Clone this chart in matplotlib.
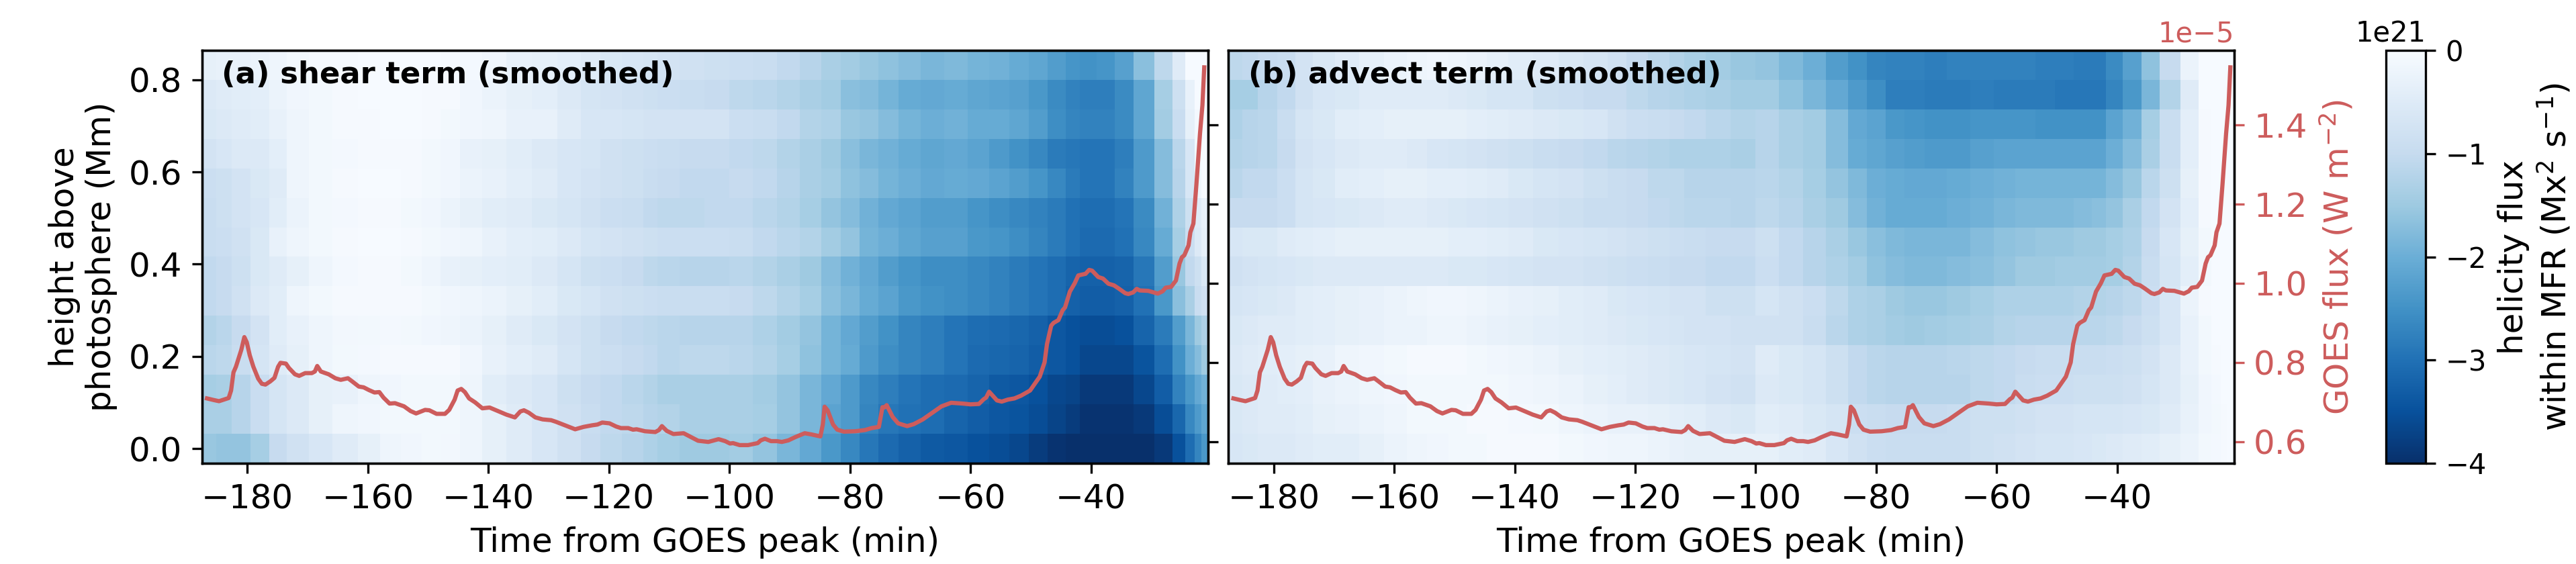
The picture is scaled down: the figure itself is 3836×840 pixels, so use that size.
import numpy as np
import matplotlib
matplotlib.use('Agg')
import matplotlib.pyplot as plt

# time bin edges (min from GOES peak)
time_edges = [-187.56,-185.18,-182.62,-179.43,-176.37,-173.47,-169.78,-165.86,-161.65,-157.96,
              -154.55,-151.03,-147.96,-144.67,-141.08,-137.0,-132.73,-128.6,-124.6,-121.4,
              -117.85,-114.3,-111.9,-108.3,-104.15,-100.0,-96.16,-92.16,-88.3,-84.7,
              -81.5,-78.45,-75.3,-71.9,-68.25,-64.4,-60.5,-56.9,-53.6,-50.3,
              -47.2,-44.2,-41.8,-39.1,-36.0,-32.9,-29.5,-26.5,-24.4,-22.8,-21.7,-20.56]
# height bin edges (Mm)
height_edges = [-0.032,0.032,0.096,0.16,0.224,0.288,0.352,0.416,0.48,0.544,0.608,0.672,0.736,0.80,0.864]

# helicity flux, 1e21 Mx2/s, bottom row first
shear_term = [
 [-1.55,-1.6,-1.6,-1.4,-1.0,-.8,-.65,-.5,-.35,-.2,-.15,-.1,-.12,-.2,-.35,-.5,-.65,-.8,-1.0,-1.1,-1.2,-1.3,-1.4,-1.5,-1.5,
  -1.45,-1.6,-1.85,-2.1,-2.4,-2.65,-2.9,-3.1,-3.25,-3.35,
  -3.4,-3.5,-3.55,-3.65,-3.8,-3.95,-4.0,-4.0,-4.0,-4.0,-4.0,-3.85,-3.5,-3.05,-2.7,-2.4],
 [-1.35,-1.35,-1.2,-.95,-.7,-.55,-.35,-.2,-.15,-.1,-.1,-.1,-.1,-.2,-.35,-.5,-.65,-.8,-.95,-1.05,-1.1,-1.2,-1.25,-1.35,-1.35,
  -1.35,-1.4,-1.6,-1.85,-2.2,-2.35,-2.7,-2.9,-3.0,-3.05,
  -3.2,-3.3,-3.4,-3.45,-3.55,-3.7,-3.8,-3.95,-3.95,-3.95,-3.85,-3.55,-3.15,-2.65,-2.35,-2.15],
 [-1.4,-1.35,-1.2,-.95,-.7,-.55,-.35,-.3,-.2,-.15,-.1,-.1,-.1,-.2,-.45,-.55,-.65,-.85,-1.0,-1.05,-1.15,-1.25,-1.35,-1.35,-1.35,
  -1.35,-1.45,-1.6,-1.85,-2.1,-2.35,-2.65,-2.8,-2.95,-3.05,
  -3.1,-3.2,-3.35,-3.4,-3.5,-3.65,-3.7,-3.85,-3.85,-3.85,-3.65,-3.3,-2.75,-2.4,-2.1,-1.95],
 [-1.15,-1.1,-.95,-.7,-.5,-.35,-.2,-.1,-.08,-.05,-.05,-.05,-.05,-.15,-.3,-.4,-.5,-.7,-.85,-.9,-1.0,-1.05,-1.15,-1.1,-1.1,
  -1.15,-1.25,-1.4,-1.65,-1.9,-2.05,-2.35,-2.55,-2.7,-2.8,
  -2.95,-3.1,-3.15,-3.2,-3.3,-3.4,-3.5,-3.65,-3.65,-3.65,-3.45,-3.05,-2.5,-2.0,-1.75,-1.5],
 [-1.25,-1.15,-1.0,-.75,-.45,-.3,-.2,-.12,-.1,-.08,-.1,-.15,-.2,-.25,-.35,-.5,-.6,-.75,-.85,-1.0,-1.05,-1.1,-1.15,-1.2,-1.2,
  -1.2,-1.3,-1.45,-1.6,-1.9,-2.1,-2.3,-2.5,-2.7,-2.8,
  -2.95,-3.05,-3.1,-3.15,-3.25,-3.4,-3.5,-3.55,-3.55,-3.5,-3.2,-2.85,-2.3,-1.85,-1.5,-1.3],
 [-1.05,-1.0,-.8,-.55,-.45,-.2,-.1,-.05,-.05,-.05,-.05,-.1,-.15,-.2,-.25,-.35,-.45,-.6,-.7,-.8,-.85,-.9,-.95,-.95,-.95,
  -1.0,-1.1,-1.25,-1.4,-1.7,-1.85,-2.05,-2.2,-2.4,-2.5,
  -2.55,-2.65,-2.75,-2.85,-2.95,-3.05,-3.25,-3.3,-3.3,-3.25,-3.0,-2.4,-1.7,-1.35,-.95,-.8],
 [-1.05,-1.0,-.85,-.6,-.5,-.35,-.2,-.08,-.05,-.05,-.1,-.2,-.3,-.35,-.4,-.45,-.55,-.7,-.85,-.9,-1.0,-1.1,-1.15,-1.2,-1.2,
  -1.15,-1.25,-1.35,-1.5,-1.75,-1.95,-2.1,-2.3,-2.45,-2.55,
  -2.55,-2.65,-2.75,-2.85,-2.95,-3.05,-3.2,-3.25,-3.25,-3.2,-2.9,-2.3,-1.55,-1.05,-.85,-.6],
 [-.95,-.9,-.8,-.6,-.3,-.2,-.1,-.05,-.03,-.03,-.05,-.1,-.15,-.2,-.3,-.4,-.45,-.55,-.7,-.75,-.8,-.85,-.9,-.9,-.9,
  -.95,-1.05,-1.15,-1.25,-1.45,-1.6,-1.9,-2.0,-2.15,-2.25,
  -2.25,-2.4,-2.45,-2.55,-2.7,-2.85,-3.0,-3.1,-3.1,-3.0,-2.65,-2.05,-1.4,-.9,-.55,-.35],
 [-.95,-.85,-.75,-.65,-.45,-.25,-.1,-.08,-.05,-.05,-.1,-.15,-.25,-.35,-.45,-.5,-.6,-.7,-.8,-.9,-.95,-1.05,-1.1,-1.1,-1.05,
  -1.05,-1.15,-1.25,-1.4,-1.6,-1.75,-1.95,-2.1,-2.2,-2.3,
  -2.3,-2.45,-2.55,-2.65,-2.75,-2.85,-3.0,-3.05,-3.05,-2.95,-2.6,-1.95,-1.3,-.85,-.5,-.3],
 [-.9,-.85,-.75,-.6,-.5,-.2,-.1,-.05,-.03,-.03,-.05,-.1,-.15,-.25,-.3,-.4,-.5,-.65,-.75,-.8,-.85,-.95,-1.0,-1.05,-1.05,
  -1.0,-1.05,-1.2,-1.35,-1.45,-1.65,-1.75,-1.9,-2.0,-2.1,
  -2.05,-2.1,-2.2,-2.3,-2.45,-2.65,-2.85,-2.95,-2.95,-2.75,-2.35,-1.75,-1.2,-.65,-.2,-.03],
 [-.75,-.65,-.55,-.55,-.4,-.2,-.1,-.08,-.05,-.05,-.05,-.1,-.15,-.3,-.35,-.45,-.55,-.65,-.7,-.8,-.85,-.9,-.95,-1.0,-1.0,
  -1.05,-1.1,-1.25,-1.35,-1.5,-1.7,-1.85,-1.95,-2.05,-2.15,
  -2.1,-2.2,-2.35,-2.5,-2.65,-2.85,-2.9,-2.95,-2.95,-2.8,-2.35,-1.75,-1.15,-.65,-.1,-.03],
 [-.6,-.55,-.5,-.45,-.3,-.2,-.1,-.05,-.05,-.03,-.03,-.05,-.1,-.15,-.2,-.3,-.3,-.5,-.65,-.65,-.7,-.75,-.75,-.75,-.75,
  -.9,-.95,-1.05,-1.25,-1.3,-1.55,-1.6,-1.75,-1.9,-2.0,
  -1.95,-2.05,-2.05,-2.15,-2.3,-2.55,-2.7,-2.75,-2.75,-2.6,-2.15,-1.45,-.95,-.35,-.08,-.05],
 [-.55,-.5,-.45,-.4,-.25,-.15,-.1,-.05,-.03,-.03,-.03,-.05,-.05,-.15,-.25,-.35,-.4,-.55,-.7,-.75,-.8,-.85,-.9,-.95,-1.0,
  -1.1,-1.15,-1.25,-1.35,-1.45,-1.7,-1.75,-1.9,-2.05,-2.1,
  -2.05,-2.15,-2.2,-2.25,-2.4,-2.6,-2.75,-2.8,-2.8,-2.6,-2.15,-1.4,-.85,-.3,-.02,-.02],
 [-.35,-.3,-.3,-.25,-.2,-.1,-.05,-.05,-.03,-.03,-.03,-.03,-.05,-.08,-.15,-.3,-.35,-.4,-.5,-.6,-.65,-.7,-.75,-.8,-.85,
  -.9,-.95,-1.05,-1.2,-1.35,-1.45,-1.55,-1.65,-1.75,-1.85,
  -1.8,-1.9,-1.95,-2.05,-2.15,-2.3,-2.45,-2.5,-2.45,-2.25,-1.7,-1.1,-.5,-.03,-.02,-.02],
]
advect_term = [
 [-.65,-.6,-.55,-.55,-.5,-.45,-.45,-.35,-.25,-.2,-.15,-.1,-.1,-.05,-.05,-.05,-.1,-.15,-.2,-.2,-.25,-.3,-.35,-.35,-.35,
  -.35,-.45,-.5,-.65,-.8,-.9,-.95,-.95,-.95,-.95,
  -.85,-.8,-.75,-.7,-.7,-.65,-.6,-.55,-.5,-.45,-.35,-.25,-.1,-.08,-.05,-.03],
 [-.6,-.55,-.5,-.5,-.45,-.35,-.3,-.25,-.2,-.1,-.1,-.1,-.05,-.05,-.08,-.1,-.2,-.25,-.3,-.3,-.35,-.4,-.45,-.55,-.6,
  -.45,-.5,-.6,-.7,-.9,-.95,-1.0,-1.0,-1.0,-.95,
  -.85,-.85,-.8,-.75,-.75,-.7,-.7,-.7,-.65,-.6,-.5,-.3,-.15,-.1,-.05,-.03],
 [-.6,-.55,-.5,-.45,-.4,-.3,-.25,-.2,-.15,-.1,-.1,-.1,-.1,-.1,-.15,-.2,-.25,-.35,-.4,-.5,-.55,-.6,-.65,-.75,-.8,
  -.55,-.6,-.7,-.85,-1.05,-1.15,-1.2,-1.2,-1.2,-1.2,
  -1.1,-1.05,-.95,-.9,-.9,-.85,-.85,-.85,-.8,-.7,-.55,-.35,-.15,-.08,-.03,-.03],
 [-.55,-.5,-.45,-.4,-.35,-.3,-.2,-.15,-.1,-.05,-.05,-.05,-.1,-.15,-.2,-.25,-.35,-.4,-.45,-.5,-.55,-.6,-.65,-.7,-.75,
  -.5,-.6,-.7,-.85,-1.05,-1.15,-1.2,-1.2,-1.2,-1.15,
  -1.1,-1.05,-1.0,-.95,-.95,-.95,-.95,-.9,-.85,-.75,-.55,-.3,-.1,-.05,-.03,-.03],
 [-.6,-.55,-.5,-.5,-.45,-.4,-.35,-.3,-.25,-.25,-.2,-.2,-.25,-.3,-.35,-.4,-.45,-.5,-.55,-.6,-.65,-.7,-.75,-.75,-.8,
  -.8,-.8,-.95,-1.15,-1.3,-1.35,-1.45,-1.5,-1.45,-1.4,
  -1.35,-1.25,-1.2,-1.2,-1.2,-1.15,-1.15,-1.1,-1.0,-.85,-.65,-.3,-.1,-.03,-.03,-.03],
 [-.7,-.65,-.6,-.55,-.45,-.4,-.35,-.3,-.25,-.2,-.15,-.15,-.2,-.25,-.3,-.35,-.45,-.5,-.6,-.65,-.7,-.75,-.75,-.85,-.85,
  -.7,-.8,-.9,-1.1,-1.3,-1.35,-1.5,-1.55,-1.55,-1.5,
  -1.4,-1.3,-1.3,-1.3,-1.3,-1.25,-1.25,-1.2,-1.1,-.9,-.65,-.25,-.05,-.03,-.03,-.03],
 [-.8,-.75,-.7,-.65,-.6,-.55,-.55,-.55,-.55,-.55,-.55,-.6,-.6,-.65,-.7,-.75,-.75,-.8,-.85,-.9,-.95,-1.0,-1.0,-1.05,-1.05,
  -.9,-1.05,-1.2,-1.3,-1.45,-1.65,-1.75,-1.8,-1.8,-1.75,
  -1.7,-1.6,-1.5,-1.5,-1.45,-1.45,-1.45,-1.4,-1.25,-.95,-.7,-.4,-.1,-.03,-.03,-.03],
 [-.65,-.6,-.6,-.5,-.45,-.4,-.35,-.35,-.35,-.35,-.35,-.4,-.4,-.45,-.5,-.6,-.65,-.7,-.75,-.8,-.85,-.9,-.95,-1.0,-1.0,
  -.85,-1.05,-1.2,-1.35,-1.55,-1.7,-1.8,-1.85,-1.85,-1.85,
  -1.75,-1.65,-1.6,-1.55,-1.55,-1.5,-1.5,-1.4,-1.3,-1.0,-.65,-.35,-.1,-.03,-.03,-.03],
 [-1.0,-1.0,-1.0,-.9,-.7,-.65,-.6,-.55,-.5,-.5,-.55,-.6,-.65,-.7,-.75,-.8,-.85,-.95,-.95,-1.0,-1.05,-1.1,-1.15,-1.15,-1.2,
  -1.1,-1.2,-1.35,-1.5,-1.75,-1.95,-2.05,-2.05,-2.05,-2.0,
  -1.95,-1.85,-1.8,-1.8,-1.8,-1.75,-1.7,-1.6,-1.35,-1.05,-.75,-.4,-.05,-.03,-.03,-.03],
 [-1.15,-1.05,-1.05,-.9,-.7,-.6,-.45,-.4,-.35,-.35,-.4,-.4,-.45,-.5,-.6,-.7,-.75,-.85,-.95,-1.0,-1.1,-1.1,-1.2,-1.2,-1.2,
  -1.15,-1.25,-1.4,-1.6,-1.8,-2.0,-2.05,-2.1,-2.1,-2.05,
  -2.0,-1.95,-1.9,-1.9,-1.9,-1.9,-1.9,-1.75,-1.55,-1.15,-.85,-.35,-.05,-.03,-.03,-.03],
 [-1.25,-1.2,-1.15,-1.0,-.75,-.65,-.55,-.5,-.5,-.55,-.65,-.7,-.75,-.8,-.85,-.95,-1.0,-1.05,-1.15,-1.2,-1.25,-1.3,-1.3,-1.3,-1.35,
  -1.2,-1.35,-1.45,-1.75,-2.05,-2.15,-2.25,-2.3,-2.35,-2.35,
  -2.25,-2.2,-2.2,-2.2,-2.2,-2.2,-2.2,-2.0,-1.75,-1.35,-.95,-.4,-.05,-.03,-.03,-.03],
 [-1.3,-1.2,-1.15,-.95,-.7,-.6,-.45,-.4,-.35,-.35,-.35,-.35,-.4,-.45,-.5,-.55,-.6,-.65,-.8,-.9,-.95,-1.0,-1.05,-1.15,-1.25,
  -1.2,-1.35,-1.45,-1.75,-2.1,-2.2,-2.4,-2.45,-2.5,-2.5,
  -2.45,-2.45,-2.45,-2.5,-2.5,-2.5,-2.5,-2.2,-1.95,-1.4,-.95,-.4,-.05,-.03,-.03,-.03],
 [-1.4,-1.4,-1.2,-1.05,-.8,-.65,-.6,-.5,-.5,-.5,-.5,-.55,-.6,-.7,-.7,-.85,-.9,-1.0,-1.0,-1.1,-1.2,-1.25,-1.3,-1.35,-1.45,
  -1.45,-1.65,-1.85,-2.1,-2.35,-2.55,-2.8,-2.8,-2.85,-2.85,
  -2.8,-2.85,-2.85,-2.85,-2.9,-2.9,-2.9,-2.7,-2.4,-1.85,-1.25,-.5,-.03,-.03,-.03,-.03],
 [-1.1,-1.05,-1.0,-.95,-.75,-.6,-.5,-.35,-.25,-.2,-.15,-.2,-.25,-.35,-.45,-.5,-.6,-.7,-.8,-1.0,-1.1,-1.25,-1.35,-1.45,-1.55,
  -1.6,-1.8,-2.0,-2.3,-2.5,-2.7,-2.75,-2.75,-2.8,-2.75,
  -2.75,-2.75,-2.75,-2.8,-2.8,-2.85,-2.85,-2.6,-2.25,-1.65,-1.0,-.25,-.03,-.03,-.03,-.03],
]

# GOES soft x-ray curve
goes_time = [-186.7,-185.6,-184.7,-183.9,-183.1,-182.7,-182.3,-181.9,-181.0,-180.5,-180.1,-179.6,-179.0,-178.2,-177.6,-177.0,
 -176.2,-175.5,-174.9,-174.5,-173.6,-173.1,-172.1,-171.4,-170.4,-169.3,-168.8,-168.4,-167.8,-166.5,-165.4,-164.5,-163.3,-162.6,
 -161.5,-160.7,-159.8,-158.9,-158.1,-157.4,-156.4,-155.5,-154.0,-152.9,-152.0,-150.5,-149.8,-148.6,-147.2,-146.5,-145.6,-145.1,
 -144.5,-143.9,-143.2,-142.2,-141.0,-139.8,-138.7,-137.0,-135.6,-134.7,-134.1,-133.3,-132.2,-131.0,-129.6,-128.8,-127.3,-125.6,
 -124.2,-122.8,-121.9,-121.1,-119.9,-118.8,-118.0,-116.8,-116.0,-115.4,-114.0,-112.3,-111.7,-111.2,-110.4,-109.3,-107.6,-106.6,
 -105.2,-103.5,-101.8,-100.7,-99.9,-99.4,-98.3,-96.9,-95.3,-94.8,-94.1,-93.1,-92.1,-91.3,-90.2,-89.1,-87.5,-86.4,-84.9,-84.5,
 -84.2,-83.7,-82.8,-82.1,-81.0,-79.1,-77.5,-76.4,-75.2,-74.6,-74.3,-73.9,-72.9,-72.0,-70.5,-69.4,-67.9,-66.2,-64.8,-63.2,-61.3,
 -60.0,-58.6,-57.8,-57.4,-56.9,-55.6,-54.8,-53.8,-52.7,-51.6,-50.1,-48.5,-47.7,-47.3,-46.6,-46.2,-45.4,-44.7,-44.3,-43.5,-42.7,
 -42.1,-40.9,-40.3,-39.8,-38.8,-38.0,-37.1,-36.2,-35.4,-34.3,-33.8,-33.0,-32.4,-31.9,-30.5,-28.9,-28.1,-27.6,-26.7,-25.9,-25.3,
 -24.9,-24.5,-23.8,-23.5,-23.0,-22.5,-21.9,-21.5,-21.2]
goes_flux = [.709,.705,.702,.706,.710,.729,.775,.789,.832,.864,.851,.818,.789,.759,.746,.744,
 .752,.761,.789,.799,.797,.786,.770,.766,.773,.773,.777,.791,.777,.770,.760,.756,.760,.752,
 .739,.737,.730,.724,.725,.711,.696,.697,.689,.677,.671,.680,.679,.670,.670,.680,.706,.729,
 .733,.725,.709,.699,.684,.686,.679,.668,.661,.676,.679,.673,.661,.656,.654,.650,.641,.631,
 .637,.641,.643,.648,.646,.638,.634,.634,.630,.631,.626,.624,.629,.639,.627,.619,.621,.613,
 .602,.599,.606,.601,.595,.596,.591,.591,.596,.603,.607,.601,.601,.599,.603,.611,.621,.618,.613,.643,
 .688,.679,.643,.630,.625,.626,.629,.634,.637,.687,.686,.692,.662,.646,.639,.644,.656,.674,.689,.698,.696,
 .694,.695,.707,.711,.726,.704,.701,.706,.709,.716,.729,.764,.800,.846,.893,.900,.907,.932,.939,.979,1.000,
 1.020,1.024,1.034,1.032,1.016,1.012,.999,.995,.987,.975,.973,.977,.986,.982,.981,.974,.980,.989,.991,1.007,1.050,
 1.066,1.071,1.096,1.129,1.151,1.250,1.379,1.450,1.546]

W, H = 3836, 840
red = 'indianred'
xticks = [-180,-160,-140,-120,-100,-80,-60,-40]
goes_ticks = [0.6e-5,0.8e-5,1.0e-5,1.2e-5,1.4e-5]

def px_axes(fig, left, right, top, bottom):
    return fig.add_axes([left/W, 1-bottom/H, (right-left)/W, (bottom-top)/H])

def draw_panel(ax, data, title):
    mesh = ax.pcolormesh(time_edges, height_edges, np.array(data)*1e21, cmap='Blues_r', vmin=-4e21, vmax=0)
    ax.set_xlim(-187.56, -20.56)
    ax.set_ylim(-0.032, 0.864)
    ax.set_xticks(xticks)
    ax.tick_params(labelsize=12)
    ax.set_xlabel('Time from GOES peak (min)', fontsize=12)
    ax.text(0.02, 0.94, title, transform=ax.transAxes, fontsize=10.8, fontweight='bold', va='center')
    twin = ax.twinx()
    twin.plot(goes_time, np.array(goes_flux)*1e-5, color=red, lw=1.5)
    twin.set_ylim(0.545e-5, 1.589e-5)
    twin.set_yticks(goes_ticks)
    return mesh, twin

fig = plt.figure(figsize=(W/300, H/300), dpi=300)
ax_a = px_axes(fig, 300.5, 1799, 75, 690)
ax_b = px_axes(fig, 1829, 3327, 75, 690)
cax = px_axes(fig, 3552.5, 3612, 75, 690)

mesh, twin_a = draw_panel(ax_a, shear_term, '(a) shear term (smoothed)')
ax_a.set_yticks([0,0.2,0.4,0.6,0.8])
ax_a.set_ylabel('height above\nphotosphere (Mm)', fontsize=12)
twin_a.tick_params(labelright=False)
twin_a.yaxis.get_offset_text().set_visible(False)

mesh, twin_b = draw_panel(ax_b, advect_term, '(b) advect term (smoothed)')
ax_b.set_yticks([])
twin_b.tick_params(axis='y', colors=red, labelsize=12)
twin_b.yaxis.get_offset_text().set_color(red)
twin_b.yaxis.get_offset_text().set_fontsize(10)
twin_b.set_ylabel('GOES flux (W m$^{-2}$)', color=red, fontsize=12)

cb = fig.colorbar(mesh, cax=cax, ticks=[-4e21,-3e21,-2e21,-1e21,0])
cb.ax.tick_params(labelsize=10)
cb.ax.yaxis.get_offset_text().set_fontsize(10)
cb.set_label('helicity flux\nwithin MFR (Mx$^{2}$ s$^{-1}$)', fontsize=12)

fig.savefig('out.png', dpi=300)
